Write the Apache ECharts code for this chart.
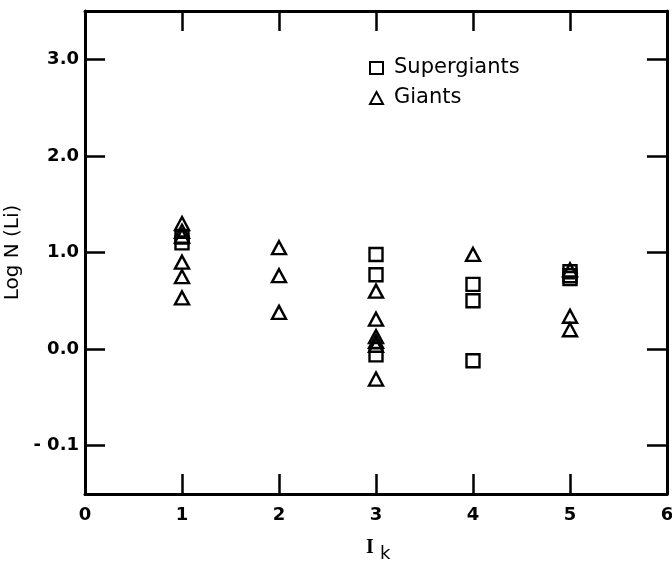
<!DOCTYPE html>
<html>
<head>
<meta charset="utf-8">
<title>Log N(Li) vs I_k</title>
<script src="https://cdn.jsdelivr.net/npm/echarts@6/dist/echarts.min.js"></script>
<style>
html, body { margin: 0; padding: 0; background: #fff; }
#chart { width: 672px; height: 563px; }
</style>
</head>
<body>
<div id="chart"></div>
<script>
// values
const superX = [1, 1, 3, 3, 3, 4, 4, 4, 5, 5, 5]
const superY = [1.10, 1.16, 0.98, 0.77, -0.06, 0.67, 0.50, -0.12, 0.80, 0.76, 0.73]
const giantX = [1, 1, 1, 1, 1, 1, 2, 2, 2, 3, 3, 3, 3, 3, 3, 4, 5, 5, 5]
const giantY = [1.30, 1.22, 1.17, 0.90, 0.75, 0.53, 1.05, 0.76, 0.38, 0.60, 0.31, 0.13, 0.08, 0.04, -0.31, 0.98, 0.82, 0.34, 0.20]
const xLabels = [0, 1, 2, 3, 4, 5, 6]
const yTicks = [-1, 0, 1, 2, 3]

const font = '"DejaVu Sans", "Noto Sans", sans-serif'

let chart = echarts.init(document.getElementById('chart'))

const pairs = (xs, ys) => xs.map((x, i) => [x, ys[i]])

const lineStyle = { color: '#000', width: 3 }
const tickStyle = { color: '#000', width: 2.5 }
const markStyle = { color: 'rgba(255,255,255,0)', borderColor: '#000', borderWidth: 2.4, opacity: 1 }

let option = {
  animation: false,
  backgroundColor: '#fff',
  textStyle: { fontFamily: font },
  grid: { left: 85, right: 5, top: 11, bottom: 69, containLabel: false, outerBoundsMode: 'none' },
  legend: {
    data: ['Supergiants', 'Giants'],
    orient: 'vertical',
    left: 364,
    top: 52,
    itemWidth: 13,
    itemHeight: 12,
    itemGap: 8,
    textStyle: { fontFamily: font, fontSize: 21, color: '#000', lineHeight: 22, padding: [0, 0, 0, 6] }
  },
  xAxis: [
    {
      type: 'value',
      min: 0,
      max: 6,
      interval: 1,
      position: 'bottom',
      splitLine: { show: false },
      axisLine: { show: true, onZero: false, lineStyle },
      axisTick: { inside: true, length: 20, lineStyle: tickStyle, customValues: xLabels.slice(1, -1) },
      axisLabel: {
        customValues: xLabels,
        margin: 12,
        color: '#000',
        fontSize: 18,
        fontWeight: 'bold',
        fontFamily: font
      }
    },
    {
      type: 'value',
      min: 0,
      max: 6,
      interval: 1,
      position: 'top',
      splitLine: { show: false },
      axisLine: { show: true, onZero: false, lineStyle },
      axisTick: { inside: true, length: 20, lineStyle: tickStyle, customValues: xLabels.slice(1, -1) },
      axisLabel: { show: false }
    }
  ],
  yAxis: [
    {
      type: 'value',
      min: -1.5,
      max: 3.5,
      interval: 0.5,
      position: 'left',
      splitLine: { show: false },
      axisLine: { show: true, onZero: false, lineStyle },
      axisTick: { inside: true, length: 20, lineStyle: tickStyle, customValues: yTicks },
      axisLabel: {
        customValues: yTicks,
        margin: 6,
        color: '#000',
        fontSize: 18,
        fontWeight: 'bold',
        fontFamily: font,
        formatter: v => (v === -1 ? '- 0.1' : v.toFixed(1))
      },
      name: 'Log N (Li)',
      nameLocation: 'middle',
      nameRotate: 90,
      nameGap: 58,
      nameTextStyle: { color: '#000', fontSize: 20, fontFamily: font }
    },
    {
      type: 'value',
      min: -1.5,
      max: 3.5,
      interval: 0.5,
      position: 'right',
      splitLine: { show: false },
      axisLine: { show: true, onZero: false, lineStyle },
      axisTick: { inside: true, length: 20, lineStyle: tickStyle, customValues: yTicks },
      axisLabel: { show: false }
    }
  ],
  graphic: [
    {
      type: 'text',
      left: 366,
      top: 538,
      style: { text: 'I', font: 'bold 20px "Liberation Serif", serif', fill: '#000' }
    },
    {
      type: 'text',
      left: 380,
      top: 545,
      style: { text: 'k', font: '18px ' + font, fill: '#000' }
    }
  ],
  series: [
    {
      name: 'Supergiants',
      type: 'scatter',
      symbol: 'rect',
      symbolSize: 13,
      itemStyle: markStyle,
      data: pairs(superX, superY)
    },
    {
      name: 'Giants',
      type: 'scatter',
      symbol: 'triangle',
      symbolSize: [14, 13],
      itemStyle: markStyle,
      data: pairs(giantX, giantY)
    }
  ]
}

chart.setOption(option)
</script>
</body>
</html>
